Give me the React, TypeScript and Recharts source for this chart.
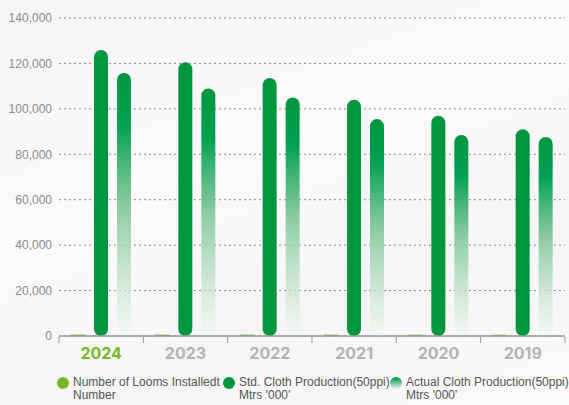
import { BarChart, Bar, XAxis, YAxis, CartesianGrid, Legend } from "recharts"

const years = ["2024", "2023", "2022", "2021", "2020", "2019"]
const loomsInstalled = [620, 600, 600, 580, 560, 560]
const stdProduction = [125900, 120500, 113600, 104000, 97000, 91000]
const actualProduction = [115800, 109000, 105000, 95500, 88500, 87600]
const yTicks = [0, 20000, 40000, 60000, 80000, 100000, 120000, 140000]

const data = years.map((year, i) => ({
  year,
  looms: loomsInstalled[i],
  std: stdProduction[i],
  actual: actualProduction[i],
}))

const BAND = 506 / 6

// x-axis labels plus the little upward ticks at band edges
function YearTick(props: any) {
  const { x, y, payload, index } = props
  const first = index === 0
  const last = index === years.length - 1
  return (
    <g>
      <line x1={x - BAND / 2} x2={x - BAND / 2} y1={y - 1} y2={y - 7} stroke="#9a9a9a" strokeWidth={1} />
      {last && <line x1={x + BAND / 2} x2={x + BAND / 2} y1={y - 1} y2={y - 7} stroke="#9a9a9a" strokeWidth={1} />}
      <text
        x={x}
        y={y + 15}
        textAnchor="middle"
        fill={first ? "#76b82a" : "#b3b3b3"}
        fontSize={16}
        fontWeight={700}
        fontFamily="Inter, Roboto, sans-serif"
      >
        {payload.value}
      </text>
    </g>
  )
}

const legendItems = [
  { label: "Number of Looms Installedt", sub: "Number", dot: "#76b82a", left: 57 },
  { label: "Std. Cloth Production(50ppi)", sub: "Mtrs '000'", dot: "#00953f", left: 223 },
  { label: "Actual Cloth Production(50ppi)", sub: "Mtrs '000'", dot: "linear-gradient(#00953f, #e8f5ec)", left: 390 },
]

function LegendContent() {
  return (
    <div style={{ position: "relative", height: 36, fontFamily: "'Liberation Sans', Arial, sans-serif" }}>
      {legendItems.map((it) => (
        <div key={it.label} style={{ position: "absolute", left: it.left, top: 7, display: "flex" }}>
          <span
            style={{
              width: 12,
              height: 12,
              borderRadius: 6,
              background: it.dot,
              marginTop: 1,
              marginRight: 4,
              flexShrink: 0,
            }}
          />
          <div style={{ fontSize: 12, lineHeight: "13px", color: "#555", whiteSpace: "nowrap" }}>
            <div>{it.label}</div>
            <div>{it.sub}</div>
          </div>
        </div>
      ))}
    </div>
  )
}

export default function App() {
  return (
    <div
      style={{
        position: "absolute",
        left: 0,
        top: 0,
        width: 569,
        height: 405,
        background: "linear-gradient(160deg, #f3f4f3 0%, #fafbfa 40%, #f4f5f4 70%, #fbfbfb 100%)",
      }}
    >
      <BarChart
        width={569}
        height={405}
        data={data}
        margin={{ top: 18, right: 4, left: 0, bottom: 0 }}
        barCategoryGap={13}
        barGap={9}
      >
        <defs>
          <linearGradient id="actualGrad" x1="0" y1="0" x2="0" y2="1">
            <stop offset="0" stopColor="#00953f" />
            <stop offset="0.2" stopColor="#03a152" />
            <stop offset="0.5" stopColor="#7fc695" stopOpacity={0.9} />
            <stop offset="1" stopColor="#f2f8f3" stopOpacity={0.6} />
          </linearGradient>
        </defs>
        <CartesianGrid vertical={false} stroke="#8a8a8a" strokeDasharray="2 3" />
        <XAxis
          dataKey="year"
          height={33}
          axisLine={{ stroke: "#9a9a9a", strokeWidth: 1.5 }}
          tickLine={false}
          tick={<YearTick />}
          interval={0}
        />
        <YAxis
          width={59}
          domain={[0, 140000]}
          ticks={yTicks}
          axisLine={false}
          tickLine={false}
          tickSize={0}
          tickMargin={7}
          tick={{ fill: "#8a8a8a", fontSize: 12, fontFamily: "Liberation Sans, Arial, sans-serif" }}
          tickFormatter={(v: number) => v.toLocaleString("en-US")}
        />
        <Legend verticalAlign="bottom" height={36} content={<LegendContent />} />
        <Bar dataKey="looms" fill="#76b82a" barSize={14} isAnimationActive={false} />
        <Bar dataKey="std" fill="#00953f" barSize={14} radius={7} isAnimationActive={false} />
        <Bar dataKey="actual" fill="url(#actualGrad)" barSize={14} radius={[7, 7, 0, 0]} isAnimationActive={false} />
      </BarChart>
    </div>
  )
}
